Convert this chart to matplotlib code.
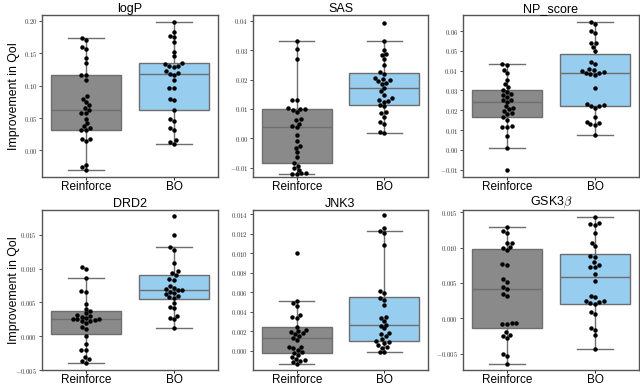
import numpy as np
import pandas as pd
import matplotlib
matplotlib.use("Agg")
import matplotlib.pyplot as plt
import seaborn as sns
from matplotlib.ticker import FuncFormatter, MultipleLocator

plt.rcParams['mathtext.fontset'] = 'cm'
plt.rcParams['font.family'] = ['Liberation Sans', 'DejaVu Sans']

groups = ["Reinforce", "BO"]
titles = ["logP", "SAS", "NP_score", "DRD2", "JNK3", r"GSK3$\beta$"]

logP_R = [0.173, 0.170, 0.160, 0.157, 0.142, 0.135, 0.116, 0.116, 0.108, 0.084, 0.080, 0.075, 0.070, 0.066, 0.062,
          0.057, 0.057, 0.049, 0.042, 0.037, 0.034, 0.031, 0.031, 0.018, 0.017, 0.015, -0.023, -0.026, -0.030]
logP_B = [0.198, 0.183, 0.177, 0.175, 0.168, 0.152, 0.145, 0.135, 0.133, 0.131, 0.130, 0.129, 0.122, 0.120, 0.118,
          0.116, 0.108, 0.097, 0.096, 0.080, 0.078, 0.062, 0.049, 0.045, 0.034, 0.031, 0.016, 0.013, 0.010]

SAS_R = [0.0333, 0.0304, 0.0271, 0.0131, 0.0130, 0.0102, 0.0101, 0.0100, 0.0098, 0.0090, 0.0064, 0.0062, 0.0050,
         0.0042, 0.0037, 0.0012, -0.0009, -0.0026, -0.0032, -0.0047, -0.0065, -0.0085, -0.0093, -0.0102, -0.0108,
         -0.0120, -0.0121, -0.0122, -0.0120]
SAS_B = [0.0392, 0.0333, 0.0301, 0.0286, 0.0284, 0.0271, 0.0248, 0.0225, 0.0219, 0.0205, 0.0201, 0.0198, 0.0195,
         0.0190, 0.0185, 0.0172, 0.0160, 0.0149, 0.0137, 0.0131, 0.0128, 0.0125, 0.0114, 0.0110, 0.0090, 0.0085,
         0.0073, 0.0055, 0.0047, 0.0020, 0.0019]

NP_R = [0.0433, 0.0430, 0.0403, 0.0386, 0.0355, 0.0332, 0.0315, 0.0301, 0.0293, 0.0281, 0.0275, 0.0268, 0.0254,
        0.0250, 0.0242, 0.0221, 0.0209, 0.0204, 0.0198, 0.0185, 0.0183, 0.0167, 0.0153, 0.0119, 0.0117, 0.0115,
        0.0069, 0.0010, -0.0100]
NP_B = [0.0644, 0.0635, 0.0600, 0.0588, 0.0541, 0.0538, 0.0521, 0.0500, 0.0445, 0.0433, 0.0406, 0.0402, 0.0399,
        0.0394, 0.0390, 0.0386, 0.0384, 0.0380, 0.0310, 0.0231, 0.0225, 0.0221, 0.0219, 0.0209, 0.0167, 0.0141,
        0.0135, 0.0129, 0.0124, 0.0077]

DRD2_R = [0.0103, 0.0100, 0.0087, 0.0067, 0.0066, 0.0048, 0.0041, 0.0038, 0.0034, 0.0032, 0.0030, 0.0029, 0.0027,
          0.0026, 0.0025, 0.0025, 0.0024, 0.0023, 0.0022, 0.0020, 0.0014, 0.0010, 0.0001, -0.0012, -0.0020,
          -0.0021, -0.0031, -0.0034, -0.0037, -0.0039]
DRD2_B = [0.0178, 0.0150, 0.0132, 0.0128, 0.0109, 0.0096, 0.0093, 0.0090, 0.0085, 0.0084, 0.0074, 0.0071, 0.0070,
          0.0069, 0.0068, 0.0066, 0.0064, 0.0062, 0.0060, 0.0058, 0.0057, 0.0049, 0.0044, 0.0042, 0.0030, 0.0027,
          0.0025, 0.0012]

JNK3_R = [0.0100, 0.0051, 0.0049, 0.0046, 0.0037, 0.0035, 0.0034, 0.0025, 0.0021, 0.0020, 0.0019, 0.0018, 0.0017,
          0.0015, 0.0013, 0.0011, 0.0004, 0.0004, 0.0003, 0.0001, -0.0001, -0.0002, -0.0004, -0.0006, -0.0008,
          -0.0009, -0.0010, -0.0011, -0.0013]
JNK3_B = [0.0139, 0.0126, 0.0123, 0.0121, 0.0109, 0.0061, 0.0059, 0.0054, 0.0052, 0.0047, 0.0035, 0.0034, 0.0031,
          0.0027, 0.0026, 0.0023, 0.0018, 0.0017, 0.0015, 0.0012, 0.0010, 0.0009, 0.0008, 0.0006, 0.0004, 0.0003,
          -0.0001, -0.0001]

GSK_R = [0.0129, 0.0124, 0.0120, 0.0107, 0.0106, 0.0101, 0.0100, 0.0096, 0.0077, 0.0076, 0.0055, 0.0052, 0.0044,
         0.0041, 0.0035, 0.0032, -0.0007, -0.0008, -0.0008, -0.0007, -0.0020, -0.0023, -0.0025, -0.0028, -0.0050,
         -0.0053, -0.0064]
GSK_B = [0.0143, 0.0134, 0.0133, 0.0132, 0.0120, 0.0107, 0.0102, 0.0088, 0.0087, 0.0079, 0.0076, 0.0073, 0.0072,
         0.0063, 0.0053, 0.0032, 0.0030, 0.0025, 0.0024, 0.0023, 0.0021, 0.0020, 0.0009, 0.0006, -0.0013, -0.0017,
         -0.0024, -0.0044]

series = [(logP_R, logP_B), (SAS_R, SAS_B), (NP_R, NP_B), (DRD2_R, DRD2_B), (JNK3_R, JNK3_B), (GSK_R, GSK_B)]
ylims = [(-0.041, 0.209), (-0.0132, 0.042), (-0.0137, 0.0681), (-0.0050, 0.0187), (-0.00196, 0.01445), (-0.0073, 0.0153)]
ysteps = [0.05, 0.01, 0.01, 0.005, 0.002, 0.005]
ydecs = [2, 2, 2, 3, 3, 3]

box_colors = ["#8a8a8a", "#97cdef"]
edge = "#6e6e6e"

fig = plt.figure(figsize=(6.4, 3.85), dpi=100)
lefts = [42 / 640, 253 / 640, 463 / 640]
widths = [176 / 640, 175 / 640, 176 / 640]
bottoms = [1 - 177 / 385, 1 - 370 / 385]
heights = [162 / 385, 160 / 385]

for i, (title, (r, b)) in enumerate(zip(titles, series)):
    row, col = divmod(i, 3)
    ax = fig.add_axes([lefts[col], bottoms[row], widths[col], heights[row]])
    bp = ax.boxplot([r, b], positions=[0, 1], widths=0.8, patch_artist=True, showfliers=False,
                    whis=1.5, capwidths=0.4, zorder=1,
                    medianprops=dict(color=edge, linewidth=1.0),
                    whiskerprops=dict(color=edge, linewidth=1.0),
                    capprops=dict(color=edge, linewidth=1.0),
                    boxprops=dict(edgecolor=edge, linewidth=1.0))
    for patch, c in zip(bp['boxes'], box_colors):
        patch.set_facecolor(c)
    df = pd.DataFrame({"group": [groups[0]] * len(r) + [groups[1]] * len(b), "val": list(r) + list(b)})
    sns.swarmplot(data=df, x="group", y="val", order=groups, color="black", size=3.2, ax=ax, zorder=3)
    ax.set_xlim(-0.5, 1.5)
    ax.set_ylim(*ylims[i])
    ax.yaxis.set_major_locator(MultipleLocator(ysteps[i]))
    d = ydecs[i]
    ax.yaxis.set_major_formatter(FuncFormatter(lambda v, p, d=d: r"$%s$" % (("%." + str(d) + "f") % (0.0 if abs(v) < 1e-12 else v))))
    ax.set_xticks([0, 1])
    ax.set_xticklabels(groups, fontsize=8.5)
    ax.tick_params(axis='y', labelsize=4.8, length=2, width=0.6, pad=1.5, colors='#333333')
    ax.tick_params(axis='x', length=2, width=0.6, pad=1.0)
    ax.set_xlabel("")
    if col == 0:
        ax.set_ylabel("Improvement in QoI", fontsize=8.8)
        ax.yaxis.set_label_coords(-0.125, 0.5)
    else:
        ax.set_ylabel("")
    ax.set_title(title, fontsize=9, pad=2)
    for s in ax.spines.values():
        s.set_color("#555555")
        s.set_linewidth(1.0)

fig.savefig("out.png", dpi=100)
